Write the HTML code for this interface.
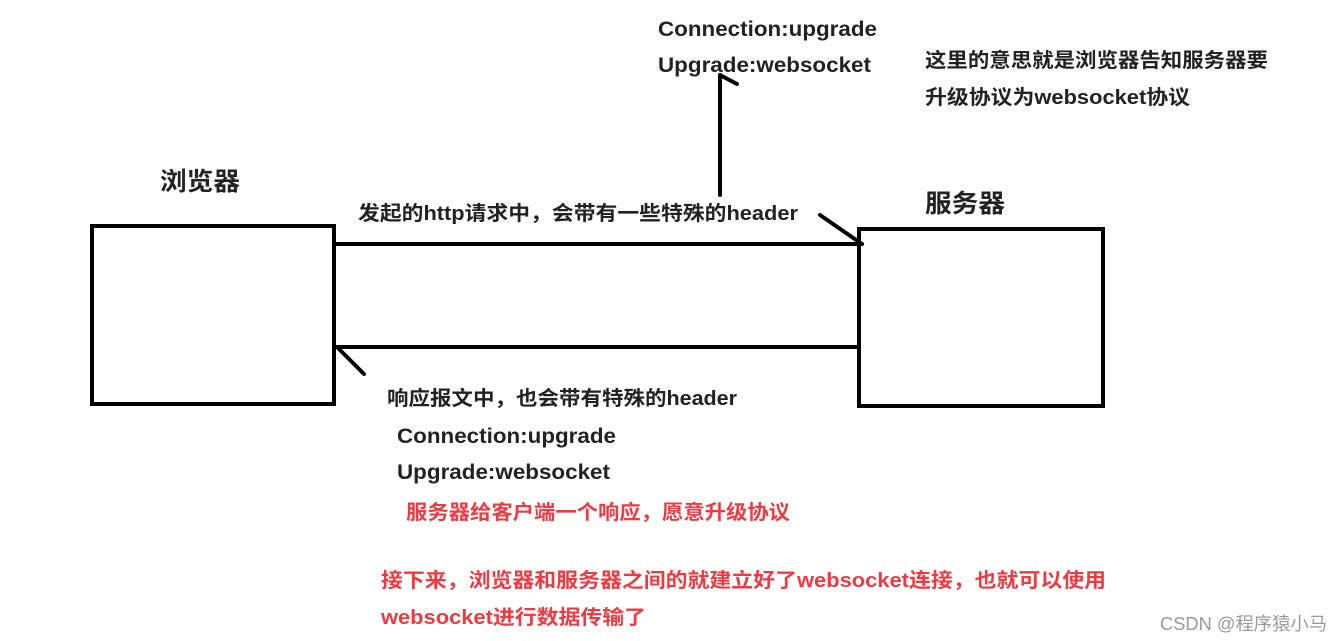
<!DOCTYPE html>
<html><head><meta charset="utf-8"><style>
html,body{margin:0;padding:0;background:#fff;width:1344px;height:641px;overflow:hidden}
svg text{font-family:"Liberation Sans","Noto Sans CJK SC",sans-serif;font-weight:bold;fill:#222}
</style></head><body>
<svg width="1344" height="641" viewBox="0 0 1344 641" xmlns="http://www.w3.org/2000/svg">
<g fill="none" stroke="#000" stroke-width="4" stroke-linecap="round">
<rect x="92" y="226" width="242" height="178"/>
<rect x="859" y="229" width="244" height="177"/>
<line x1="334" y1="244" x2="862" y2="244"/>
<line x1="820" y1="215" x2="862" y2="244"/>
<line x1="337" y1="347" x2="859" y2="347"/>
<line x1="337" y1="347" x2="364" y2="374"/>
<line x1="720" y1="195" x2="720" y2="75"/>
<line x1="720" y1="75" x2="737" y2="84"/>
</g>
<g lengthAdjust="spacingAndGlyphs">
<text x="160" y="190" font-size="25" textLength="80" lengthAdjust="spacingAndGlyphs">浏览器</text>
<text x="925" y="212" font-size="25" textLength="80" lengthAdjust="spacingAndGlyphs">服务器</text>
<text x="358" y="220" font-size="20" textLength="440" lengthAdjust="spacingAndGlyphs">发起的http请求中，会带有一些特殊的header</text>
<text x="658" y="36" font-size="21" textLength="219" lengthAdjust="spacingAndGlyphs">Connection:upgrade</text>
<text x="658" y="72" font-size="21" textLength="213" lengthAdjust="spacingAndGlyphs">Upgrade:websocket</text>
<text x="925" y="67" font-size="20" textLength="343" lengthAdjust="spacingAndGlyphs">这里的意思就是浏览器告知服务器要</text>
<text x="925" y="104" font-size="20" textLength="265" lengthAdjust="spacingAndGlyphs">升级协议为websocket协议</text>
<text x="387" y="405" font-size="20" textLength="350" lengthAdjust="spacingAndGlyphs">响应报文中，也会带有特殊的header</text>
<text x="397" y="443" font-size="21" textLength="219" lengthAdjust="spacingAndGlyphs">Connection:upgrade</text>
<text x="397" y="479" font-size="21" textLength="213" lengthAdjust="spacingAndGlyphs">Upgrade:websocket</text>
<text x="406" y="519" font-size="20" textLength="384" lengthAdjust="spacingAndGlyphs" style="fill:#ee3a43">服务器给客户端一个响应，愿意升级协议</text>
<text x="381" y="587" font-size="20" textLength="725" lengthAdjust="spacingAndGlyphs" style="fill:#ee3a43">接下来，浏览器和服务器之间的就建立好了websocket连接，也就可以使用</text>
<text x="381" y="624" font-size="20" textLength="265" lengthAdjust="spacingAndGlyphs" style="fill:#ee3a43">websocket进行数据传输了</text>
<text x="1160" y="630" font-size="18" textLength="167" lengthAdjust="spacingAndGlyphs" style="font-weight:normal;fill:#999">CSDN @程序猿小马</text>
</g>
</svg>
</body></html>
